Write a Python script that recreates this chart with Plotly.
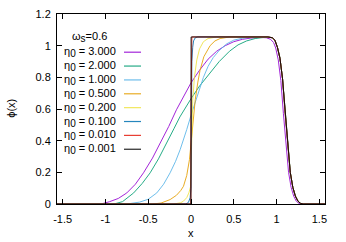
import plotly.graph_objects as go

# ---------------- data ----------------
eta_labels = ["3.000", "2.000", "1.000", "0.500", "0.200", "0.100", "0.010", "0.001"]
colors = ["#9400d3", "#009e73", "#56b4e9", "#e69f00", "#f0e442", "#0072b2", "#e51e10", "#000000"]

tail_x = [0.90, 0.95, 0.98, 1.01, 1.04, 1.07, 1.10, 1.13, 1.16, 1.19, 1.22, 1.25, 1.28, 1.31, 1.566]
tail_y = [1.055, 1.05, 1.035, 0.99, 0.92, 0.79, 0.575, 0.36, 0.20, 0.105, 0.05, 0.018, 0.004, 0.0, 0.0]

x_eta3 = [-1.566, -1.05, -0.95, -0.85, -0.75, -0.65, -0.555, -0.45, -0.36, -0.26, -0.17, -0.08,
          0.0, 0.1, 0.2, 0.3, 0.4, 0.5, 0.6, 0.7, 0.8, 0.88, 0.93, 0.965, 0.99, 1.02,
          1.05, 1.08, 1.11, 1.14, 1.17, 1.2, 1.23, 1.26, 1.29, 1.566]
y_eta3 = [0, 0, 0.015, 0.035, 0.07, 0.125, 0.197, 0.29, 0.385, 0.49, 0.595, 0.685,
          0.765, 0.845, 0.915, 0.965, 1.0, 1.025, 1.04, 1.048, 1.052, 1.05, 1.04, 1.02, 0.985, 0.91,
          0.78, 0.57, 0.36, 0.20, 0.105, 0.05, 0.018, 0.004, 0.0, 0.0]

x_eta2 = [-1.566, -0.9, -0.8, -0.67, -0.57, -0.477, -0.38, -0.28, -0.2, -0.13, -0.06, 0.0,
          0.1, 0.2, 0.33, 0.45, 0.55, 0.65, 0.75, 0.85]
y_eta2 = [0, 0, 0.015, 0.07, 0.13, 0.197, 0.285, 0.385, 0.475, 0.55, 0.615, 0.665,
          0.745, 0.815, 0.9, 0.965, 1.005, 1.03, 1.045, 1.052]

x_eta1 = [-1.566, -0.75, -0.6, -0.5, -0.4, -0.32, -0.244, -0.18, -0.127, -0.09, -0.05, 0.0,
          0.05, 0.1, 0.145, 0.2, 0.26, 0.33, 0.418, 0.5, 0.6, 0.7]
y_eta1 = [0, 0, 0.012, 0.03, 0.07, 0.125, 0.197, 0.27, 0.343, 0.40, 0.47, 0.56,
          0.645, 0.73, 0.80, 0.87, 0.925, 0.97, 1.012, 1.035, 1.047, 1.053]

x_eta05 = [-1.566, -0.45, -0.35, -0.244, -0.17, -0.12, -0.088, -0.05, -0.018, 0.0, 0.02, 0.05,
           0.08, 0.106, 0.15, 0.223, 0.28, 0.34, 0.45]
y_eta05 = [0, 0, 0.006, 0.028, 0.055, 0.085, 0.112, 0.18, 0.28, 0.38, 0.50, 0.66,
           0.77, 0.845, 0.93, 1.0, 1.03, 1.045, 1.055]

x_eta02 = [-1.566, -0.2, -0.12, -0.088, -0.05, -0.025, -0.005, 0.0, 0.01, 0.02, 0.04, 0.068,
           0.1, 0.145, 0.2, 0.3]
y_eta02 = [0, 0, 0.008, 0.018, 0.04, 0.07, 0.11, 0.25, 0.50, 0.65, 0.80, 0.91,
           0.98, 1.025, 1.045, 1.055]

x_eta01 = [-1.566, -0.06, -0.03, -0.01, 0.0, 0.004, 0.01, 0.02, 0.03, 0.05, 0.08]
y_eta01 = [0, 0, 0.01, 0.04, 0.1, 0.6, 0.9, 0.99, 1.03, 1.05, 1.055]

x_eta001 = [-1.566, -0.002, 0.0, 0.002, 0.01]
y_eta001 = [0, 0, 0.6, 1.055, 1.055]

x_eta0001 = [-1.566, -0.001, 0.0, 0.001, 0.01]
y_eta0001 = [0, 0, 0.6, 1.055, 1.055]

x_ticks = [-1.5, -1, -0.5, 0, 0.5, 1, 1.5]
x_ticktext = ["-1.5", "-1", "-0.5", "0", "0.5", "1", "1.5"]
y_ticks = [0, 0.2, 0.4, 0.6, 0.8, 1.0, 1.2]
y_ticktext = ["0", "0.2", "0.4", "0.6", "0.8", "1", "1.2"]

series = [
    (x_eta3, y_eta3, False),
    (x_eta2, y_eta2, True),
    (x_eta1, y_eta1, True),
    (x_eta05, y_eta05, True),
    (x_eta02, y_eta02, True),
    (x_eta01, y_eta01, True),
    (x_eta001, y_eta001, True),
    (x_eta0001, y_eta0001, True),
]

# ---------------- figure ----------------
W, H = 346, 242
ml, mr, mt, mb = 57, 21, 14, 37.5
pw, ph = W - ml - mr, H - mt - mb

fig = go.Figure()
for (xs, ys, add_tail), col, lab in zip(series, colors, eta_labels):
    if add_tail:
        xs = xs + tail_x
        ys = ys + tail_y
    fig.add_trace(go.Scatter(x=xs, y=ys, mode="lines", name="η0 = " + lab,
                             line=dict(color=col, width=1),
                             opacity=0.85, showlegend=False, hoverinfo="skip"))

font = dict(family="Liberation Sans, Arial, sans-serif", size=11, color="black")


def px_x(px):
    return (px - ml) / pw


def px_y(py):
    return (H - mb - py) / ph


for i, (lab, col) in enumerate(zip(eta_labels, colors)):
    yy = px_y(52.3 + i * 13.9)
    fig.add_annotation(x=px_x(118), y=yy, xref="paper", yref="paper",
                       text="η<sub><span style='font-size:10px'>0</span></sub> = " + lab,
                       showarrow=False, xanchor="right", yanchor="middle", font=font)
    fig.add_shape(type="line", xref="paper", yref="paper",
                  x0=px_x(124), x1=px_x(141), y0=yy, y1=yy,
                  line=dict(color=col, width=1.2), opacity=0.85)

fig.add_annotation(x=px_x(70), y=px_y(37), xref="paper", yref="paper",
                   text="ω<sub><span style='font-size:10px'>s</span></sub>=0.6", showarrow=False,
                   xanchor="left", yanchor="middle", font=font)

# axis titles placed like gnuplot's
fig.add_annotation(x=px_x(191), y=px_y(234), xref="paper", yref="paper", text="x",
                   showarrow=False, xanchor="center", yanchor="middle", font=font)
fig.add_annotation(x=px_x(11), y=px_y(109), xref="paper", yref="paper", text="ϕ(x)",
                   showarrow=False, xanchor="center", yanchor="middle", textangle=-90, font=font)

axis_common = dict(showgrid=False, zeroline=False, showline=True, linecolor="black",
                   linewidth=1, mirror="allticks", ticks="inside", ticklen=5,
                   tickcolor="black", tickfont=font, automargin=False)

fig.update_xaxes(range=[-1.566, 1.566], tickvals=x_ticks, ticktext=x_ticktext,
                 ticklabelstandoff=5, **axis_common)
fig.update_yaxes(range=[0, 1.2], tickvals=y_ticks, ticktext=y_ticktext,
                 ticklabelstandoff=3, **axis_common)

fig.update_layout(width=W, height=H, margin=dict(l=ml, r=mr, t=mt, b=mb),
                  plot_bgcolor="white", paper_bgcolor="white", showlegend=False,
                  hovermode=False)

# remove the page's default body margin so the figure sits at the window's corner
fig.write_html("out.html", config={"displayModeBar": False},
               post_script="document.body.style.margin='0';document.body.style.overflow='hidden';")
